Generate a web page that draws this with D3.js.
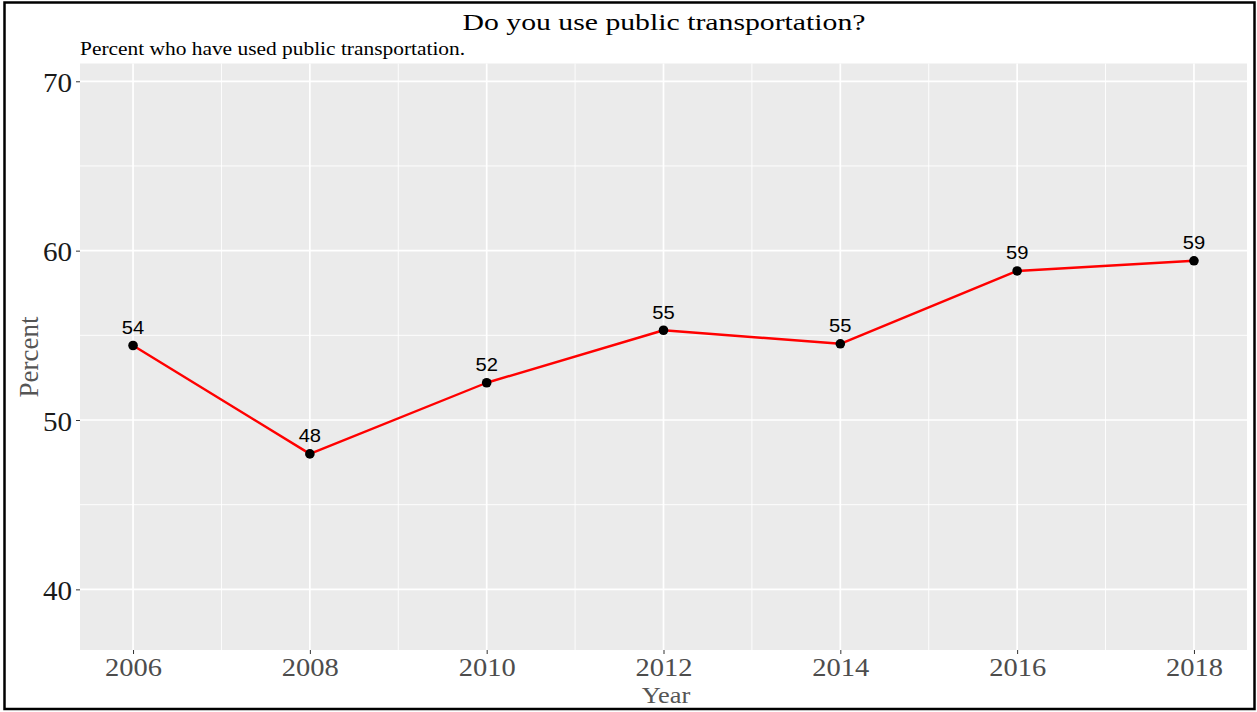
<!DOCTYPE html>
<html>
<head>
<meta charset="utf-8">
<script src="https://cdn.jsdelivr.net/npm/d3@7"></script>
<style>
  html, body { margin: 0; padding: 0; background: #ffffff; }
  svg { display: block; }
</style>
</head>
<body>
<script>
// Survey share of respondents who have used public transportation
const years = [2006, 2008, 2010, 2012, 2014, 2016, 2018];
const percents = [54.4, 48.0, 52.2, 55.3, 54.5, 58.8, 59.4];
const xTicks = [2006, 2008, 2010, 2012, 2014, 2016, 2018];
const xMinor = [2007, 2009, 2011, 2013, 2015, 2017];
const yTicks = [40, 50, 60, 70];
const yMinor = [45, 55, 65];

const W = 1257, H = 712;
const panel = { left: 80, right: 1247, top: 63.5, bottom: 650 };

const svg = d3.select("body").append("svg")
  .attr("width", W).attr("height", H);

svg.append("rect").attr("width", W).attr("height", H).attr("fill", "#ffffff");

const x = d3.scaleLinear().domain([2005.4, 2018.6]).range([panel.left, panel.right]);
const y = d3.scaleLinear().domain([36.42, 71.05]).range([panel.bottom, panel.top]);

// grey plotting panel
svg.append("rect")
  .attr("x", panel.left).attr("y", panel.top)
  .attr("width", panel.right - panel.left).attr("height", panel.bottom - panel.top)
  .attr("fill", "#EBEBEB");

const grid = svg.append("g");
grid.selectAll(".ymin").data(yMinor).join("line")
  .attr("x1", panel.left).attr("x2", panel.right)
  .attr("y1", d => y(d)).attr("y2", d => y(d))
  .attr("stroke", "#ffffff").attr("stroke-width", 0.9);
grid.selectAll(".xmin").data(xMinor).join("line")
  .attr("y1", panel.top).attr("y2", panel.bottom)
  .attr("x1", d => x(d)).attr("x2", d => x(d))
  .attr("stroke", "#ffffff").attr("stroke-width", 0.9);
grid.selectAll(".ymaj").data(yTicks).join("line")
  .attr("x1", panel.left).attr("x2", panel.right)
  .attr("y1", d => y(d)).attr("y2", d => y(d))
  .attr("stroke", "#ffffff").attr("stroke-width", 1.7);
grid.selectAll(".xmaj").data(xTicks).join("line")
  .attr("y1", panel.top).attr("y2", panel.bottom)
  .attr("x1", d => x(d)).attr("x2", d => x(d))
  .attr("stroke", "#ffffff").attr("stroke-width", 1.7);

// axes built from the scales
const xAxis = d3.axisBottom(x).tickValues(xTicks).tickFormat(d3.format("d")).tickSize(4).tickPadding(2);
const yAxis = d3.axisLeft(y).tickValues(yTicks).tickFormat(d3.format("d")).tickSize(4).tickPadding(4);

const gx = svg.append("g").attr("transform", `translate(0,${panel.bottom})`).call(xAxis);
gx.select(".domain").remove();
gx.selectAll(".tick line").attr("stroke", "#333333").attr("stroke-width", 1);
gx.selectAll(".tick text")
  .attr("y", 0).attr("dy", null)
  .attr("font-family", "'Liberation Serif', 'Times New Roman', serif")
  .attr("font-size", 25).attr("fill", "#4d4d4d")
  .attr("text-anchor", "middle")
  .attr("transform", "translate(0,26) scale(1.14,1)");

const gy = svg.append("g").attr("transform", `translate(${panel.left},0)`).call(yAxis);
gy.select(".domain").remove();
gy.selectAll(".tick line").attr("stroke", "#333333").attr("stroke-width", 1);
gy.selectAll(".tick text")
  .attr("x", 0).attr("dy", null).attr("y", 0)
  .attr("font-family", "'Liberation Serif', 'Times New Roman', serif")
  .attr("font-size", 28).attr("fill", "#1a1a1a")
  .attr("text-anchor", "end")
  .attr("transform", "translate(-8,10) scale(1.04,1)");

// series line and points
const line = d3.line().x((d, i) => x(years[i])).y(d => y(d));
svg.append("path").datum(percents)
  .attr("d", line).attr("fill", "none")
  .attr("stroke", "#FF0000").attr("stroke-width", 2.4)
  .attr("stroke-linejoin", "round");

svg.selectAll(".pt").data(percents).join("circle")
  .attr("cx", (d, i) => x(years[i])).attr("cy", d => y(d))
  .attr("r", 4.8).attr("fill", "#000000");

svg.selectAll(".lbl").data(percents).join("text")
  .attr("transform", (d, i) => `translate(${x(years[i])},${y(d) - 11.5}) scale(1.12,1)`)
  .attr("text-anchor", "middle")
  .attr("font-family", "'Liberation Sans', Arial, sans-serif")
  .attr("font-size", 18).attr("fill", "#000000")
  .text(d => Math.round(d));

// titles
const serif = "'Liberation Serif', 'Times New Roman', serif";
svg.append("text")
  .attr("transform", "translate(664,30) scale(1.24,1)")
  .attr("text-anchor", "middle").attr("font-family", serif)
  .attr("font-size", 24).attr("fill", "#000000")
  .text("Do you use public transportation?");

svg.append("text")
  .attr("transform", `translate(${panel.left},55) scale(1.19,1)`)
  .attr("text-anchor", "start").attr("font-family", serif)
  .attr("font-size", 18).attr("fill", "#000000")
  .text("Percent who have used public transportation.");

svg.append("text")
  .attr("transform", "translate(666,702.5) scale(1.1,1)")
  .attr("text-anchor", "middle").attr("font-family", serif)
  .attr("font-size", 24).attr("fill", "#555555")
  .text("Year");

svg.append("text")
  .attr("transform", "translate(38,357) rotate(-90)")
  .attr("text-anchor", "middle").attr("font-family", serif)
  .attr("font-size", 27).attr("fill", "#555555")
  .text("Percent");

// outer frame
svg.append("rect")
  .attr("x", 4.5).attr("y", 2.5).attr("width", 1250).attr("height", 706.5)
  .attr("fill", "none").attr("stroke", "#000000").attr("stroke-width", 2.5);
</script>
</body>
</html>
